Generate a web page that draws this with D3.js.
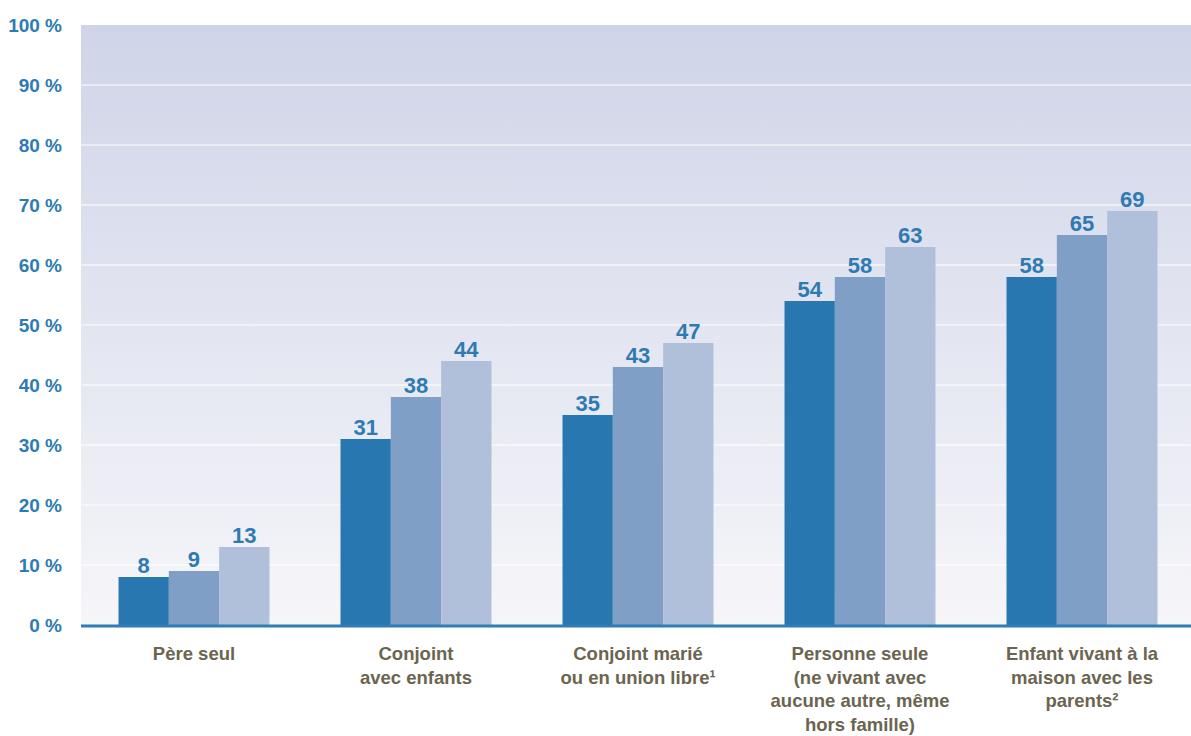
<!DOCTYPE html>
<html><head><meta charset="utf-8">
<script src="https://cdn.jsdelivr.net/npm/d3@7"></script>
<style>
body{margin:0;background:#fff;}
text{font-family:"Liberation Sans Narrow","Arial Narrow","Liberation Sans",Arial,sans-serif;font-weight:bold;}
</style></head>
<body>
<svg id="c" width="1191" height="736"></svg>
<script>
const categories = [
  ["Père seul"],
  ["Conjoint", "avec enfants"],
  ["Conjoint marié", "ou en union libre¹"],
  ["Personne seule", "(ne vivant avec", "aucune autre, même", "hors famille)"],
  ["Enfant vivant à la", "maison avec les", "parents²"]
];
const series = ["s1", "s2", "s3"];
const values1 = [8, 31, 35, 54, 58];
const values2 = [9, 38, 43, 58, 65];
const values3 = [13, 44, 47, 63, 69];
const yTicks = [0, 10, 20, 30, 40, 50, 60, 70, 80, 90, 100];
const colors = ["#2877b0", "#7f9fc6", "#b0c0da"];

const allValues = [values1, values2, values3];
const svg = d3.select("#c");
const m = {l: 81, r: 0, t: 25, b: 111};
const W = 1191, H = 736;
const x0 = d3.scaleBand().domain(d3.range(categories.length)).range([m.l + 2, W + 2]).paddingInner(0.32).paddingOuter(0.16);
const x1 = d3.scaleBand().domain(series).range([0, x0.bandwidth()]);
const y = d3.scaleLinear().domain([0, 100]).range([H - m.b, m.t]);

const defs = svg.append("defs");
const g = defs.append("linearGradient").attr("id", "bg").attr("x1", 0).attr("y1", 0).attr("x2", 0).attr("y2", 1);
g.append("stop").attr("offset", "0%").attr("stop-color", "#cfd4e8");
g.append("stop").attr("offset", "100%").attr("stop-color", "#f6f6f9");

svg.append("rect").attr("x", m.l).attr("y", y(100)).attr("width", W - m.r - m.l).attr("height", y(0) - y(100)).attr("fill", "url(#bg)");

// gridlines
svg.append("g").selectAll("line").data(yTicks.filter(d => d > 0 && d < 100)).join("line")
  .attr("x1", m.l).attr("x2", W - m.r).attr("y1", d => y(d)).attr("y2", d => y(d))
  .attr("stroke", "#fff").attr("stroke-width", 1.2);

// y axis labels
const yAxis = d3.axisLeft(y).tickValues(yTicks).tickFormat(d => d + " %").tickSize(0).tickPadding(0);
const ya = svg.append("g").attr("transform", `translate(${62},0)`).call(yAxis);
ya.select(".domain").remove();
ya.selectAll("text").attr("fill", "#2e7ab3").style("font-size", "19px").attr("dy", "0.35em");

// bars
const groups = svg.append("g").selectAll("g").data(categories.map((c, i) => i)).join("g")
  .attr("transform", i => `translate(${x0(i)},0)`);
groups.selectAll("rect").data(i => series.map((s, j) => ({s, j, v: allValues[j][i]}))).join("rect")
  .attr("x", d => x1(d.s)).attr("width", x1.bandwidth())
  .attr("y", d => y(d.v)).attr("height", d => y(0) - y(d.v))
  .attr("fill", d => colors[d.j]);
groups.selectAll("text.v").data(i => series.map((s, j) => ({s, j, v: allValues[j][i]}))).join("text")
  .attr("class", "v")
  .attr("x", d => x1(d.s) + x1.bandwidth() / 2).attr("y", d => y(d.v) - 4)
  .attr("text-anchor", "middle").attr("fill", "#2e7ab3").style("font-size", "22px")
  .text(d => d.v);

// x axis line
svg.append("line").attr("x1", m.l).attr("x2", W).attr("y1", y(0) + 1).attr("y2", y(0) + 1)
  .attr("stroke", "#2f7db6").attr("stroke-width", 3);

// category labels
const cl = svg.append("g").selectAll("text").data(categories).join("text")
  .attr("x", (d, i) => x0(i) + x0.bandwidth() / 2).attr("y", 660)
  .attr("text-anchor", "middle").attr("fill", "#6b6450").style("font-size", "18.5px");
cl.selectAll("tspan").data(d => d).join("tspan")
  .attr("x", function(){ return this.parentNode.getAttribute("x"); })
  .attr("dy", (d, k) => k === 0 ? 0 : 23.5).text(d => d);
</script>
</body></html>
